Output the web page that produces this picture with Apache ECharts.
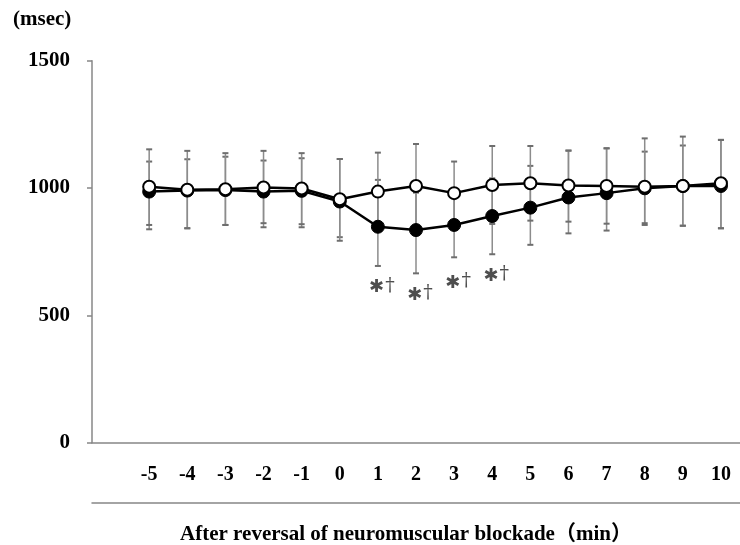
<!DOCTYPE html>
<html>
<head>
<meta charset="utf-8">
<script src="https://cdn.jsdelivr.net/npm/echarts@6/dist/echarts.min.js"></script>
<style>
html, body { margin: 0; padding: 0; background: #fff; }
#chart { width: 740px; height: 545px; }
</style>
</head>
<body>
<div id="chart"></div>
<script>
// minutes after reversal (an empty slot sits before -5 on the axis, like the original)
const minutes = [-5, -4, -3, -2, -1, 0, 1, 2, 3, 4, 5, 6, 7, 8, 9, 10];

// open circles
const openMean = [1005, 993, 995, 1002, 998, 956, 986, 1008, 980, 1012, 1019, 1010, 1008, 1005, 1008, 1019];
const openHigh = [1152, 1146, 1137, 1146, 1137, 1114, 1139, 1173, 1104, 1165, 1165, 1147, 1156, 1195, 1202, 1189];
const openLow  = [855, 842, 855, 862, 858, 793, 840, 843, 856, 859, 872, 868, 860, 862, 852, 842];

// filled circles
const filledMean = [986, 990, 992, 986, 989, 947, 848, 835, 855, 890, 923, 963, 980, 999, 1008, 1008];
const filledHigh = [1104, 1113, 1123, 1108, 1117, 1114, 1032, 982, 982, 1038, 1087, 1147, 1156, 1143, 1167, 1189];
const filledLow  = [838, 842, 855, 846, 846, 807, 694, 665, 728, 740, 777, 822, 833, 855, 852, 842];

// significance marks
const markMinutes = [1, 2, 3, 4];
const markValues = [611, 580, 627, 655];

const yTicks = [0, 500, 1000, 1500];

const categories = [''].concat(minutes.map(String));
const idx = m => minutes.indexOf(m) + 1;

const serif = '"Liberation Serif", "Times New Roman", serif';
const axisGray = '#878787';

function pairs(vals) {
    return vals.map((v, i) => [i + 1, v]);
}
function bars(low, high) {
    return low.map((v, i) => [i + 1, v, high[i]]);
}

function renderErr(params, api) {
    const x = api.value(0);
    const top = api.coord([x, api.value(2)]);
    const bot = api.coord([x, api.value(1)]);
    const w = 3;
    return {
        type: 'group',
        children: [
            { type: 'line', shape: { x1: top[0], y1: top[1], x2: bot[0], y2: bot[1] },
              style: { stroke: '#8c8c8c', lineWidth: 1.5 } },
            { type: 'line', shape: { x1: top[0] - w, y1: top[1], x2: top[0] + w, y2: top[1] },
              style: { stroke: '#6e6e6e', lineWidth: 2 } },
            { type: 'line', shape: { x1: bot[0] - w, y1: bot[1], x2: bot[0] + w, y2: bot[1] },
              style: { stroke: '#6e6e6e', lineWidth: 2 } }
        ]
    };
}

const chart = echarts.init(document.getElementById('chart'));
chart.setOption({
    animation: false,
    grid: { left: 92, right: -6, top: 60.7, bottom: 102.3 },
    xAxis: [{
        type: 'category',
        data: categories,
        boundaryGap: true,
        axisLine: { lineStyle: { color: axisGray, width: 1.5 } },
        axisTick: { show: false },
        axisLabel: { color: '#000', fontFamily: serif, fontWeight: 'bold', fontSize: 20, margin: 22, interval: 0 }
    }, {
        type: 'category',
        data: categories,
        position: 'bottom',
        offset: 60,
        axisLine: { lineStyle: { color: axisGray, width: 1.5 } },
        axisTick: { show: false },
        axisLabel: { show: false }
    }],
    yAxis: {
        type: 'value',
        min: yTicks[0],
        max: yTicks[yTicks.length - 1],
        interval: 500,
        axisLine: { show: true, lineStyle: { color: axisGray, width: 1.5 } },
        axisTick: { show: true, inside: false, length: 5, lineStyle: { color: axisGray, width: 1.5 } },
        splitLine: { show: false },
        axisLabel: {
            color: '#000', fontFamily: serif, fontWeight: 'bold', fontSize: 21, margin: 22,
            formatter: v => String(v)
        }
    },
    graphic: [{
        type: 'text', left: 13, top: 9,
        style: { text: '(msec)', fill: '#000', font: 'bold 21px ' + serif }
    }, {
        type: 'text', x: 406, y: 535,
        style: {
            text: 'After reversal of neuromuscular blockade（min）',
            fill: '#000', font: 'bold 21px "Liberation Serif", "Noto Sans CJK JP", serif',
            align: 'center', verticalAlign: 'middle'
        }
    }],
    series: [{
        type: 'custom',
        renderItem: renderErr,
        encode: { x: 0, y: [1, 2] },
        data: bars(filledLow, filledHigh),
        z: 1
    }, {
        type: 'custom',
        renderItem: renderErr,
        encode: { x: 0, y: [1, 2] },
        data: bars(openLow, openHigh),
        z: 1
    }, {
        type: 'line',
        data: pairs(filledMean),
        symbol: 'circle',
        symbolSize: 13,
        lineStyle: { color: '#000', width: 2.5 },
        itemStyle: { color: '#000', borderColor: '#000', borderWidth: 1 },
        z: 3
    }, {
        type: 'line',
        data: pairs(openMean),
        symbol: 'circle',
        symbolSize: 12,
        lineStyle: { color: '#000', width: 2.5 },
        itemStyle: { color: '#fff', borderColor: '#000', borderWidth: 2 },
        z: 4
    }, {
        type: 'scatter',
        data: markMinutes.map((m, i) => [idx(m), markValues[i]]),
        symbolSize: 0,
        silent: true,
        label: {
            show: true,
            position: 'inside',
            offset: [4, 0],
            formatter: '{a|✱}{b|†}',
            rich: {
                a: { fontFamily: '"DejaVu Sans", sans-serif', fontSize: 18, color: '#222' },
                b: { fontFamily: '"DejaVu Serif", serif', fontSize: 19, color: '#222', padding: [0, 0, 3, 1] }
            }
        },
        z: 5
    }]
});
</script>
</body>
</html>
